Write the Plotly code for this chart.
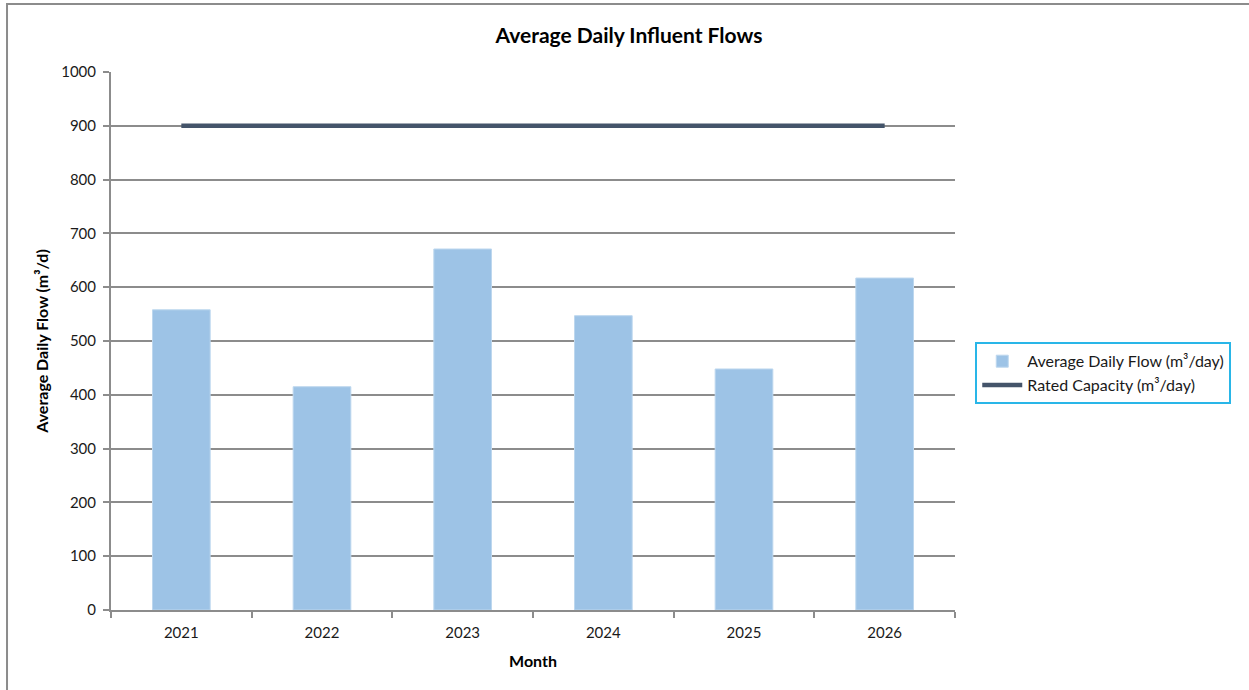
import plotly.graph_objects as go

# Annual influent flow data
years = ["2021", "2022", "2023", "2024", "2025", "2026"]
avg_daily_flow = [558, 415, 671, 547, 448, 617]
rated_capacity = [900, 900, 900, 900, 900, 900]
y_ticks = [0, 100, 200, 300, 400, 500, 600, 700, 800, 900, 1000]

FONT = "Lato, 'Open Sans', sans-serif"
GRID = "#8c8c8c"

fig = go.Figure()

fig.add_trace(go.Bar(
    x=years, y=avg_daily_flow,
    name="Average Daily Flow (m³/day)",
    marker=dict(color="#9DC3E6", line=dict(color="#BDD7EE", width=1)),
    width=0.41,
))

fig.add_trace(go.Scatter(
    x=years, y=rated_capacity,
    mode="lines",
    name="Rated Capacity (m³/day)",
    line=dict(color="#44546A", width=4.5),
))

fig.update_layout(
    width=1249, height=690,
    margin=dict(l=111, r=294, t=72, b=80),
    paper_bgcolor="white", plot_bgcolor="white",
    font=dict(family=FONT, color="#1a1a1a", size=15),
    title=dict(text="<b>Average Daily Influent Flows</b>", x=0.5036, xanchor="center",
               y=0.949, yanchor="middle", font=dict(size=21, color="#000000")),
    showlegend=True,
    legend=dict(x=1.024, xanchor="left", y=0.44, yanchor="middle",
                bordercolor="#29B6E8", borderwidth=2, bgcolor="white",
                font=dict(size=16, color="#1a1a1a"), tracegroupgap=4,
                itemwidth=40),
    bargap=0.59,
)

fig.update_xaxes(
    type="category",
    showline=True, linecolor=GRID, linewidth=2,
    ticks="outside", tickson="boundaries", ticklen=6, tickcolor=GRID, tickwidth=2,
    showgrid=False,
    tickfont=dict(size=15, color="#1a1a1a"),
    ticklabelstandoff=8,
    title=dict(text="<b>Month</b>", font=dict(size=16, color="#000000"), standoff=16),
)

fig.update_yaxes(
    range=[0, 1000], tickvals=y_ticks,
    showline=True, linecolor=GRID, linewidth=2,
    ticks="outside", ticklen=6, tickcolor=GRID, tickwidth=2,
    showgrid=True, gridcolor=GRID, gridwidth=2,
    zeroline=False,
    tickfont=dict(size=15, color="#1a1a1a"),
    ticklabelstandoff=4,
    title=dict(text="<b>Average Daily Flow (m³/d)</b>", font=dict(size=16, color="#000000"),
               standoff=9),
)

# Outer chart frame (left and top edges visible)
fig.add_shape(type="rect", xref="paper", yref="paper",
              x0=-0.1232, x1=1.6, y0=-0.3, y1=1.1264,
              line=dict(color="#8c8c8c", width=2), layer="below")

fig.write_html("out.html")
